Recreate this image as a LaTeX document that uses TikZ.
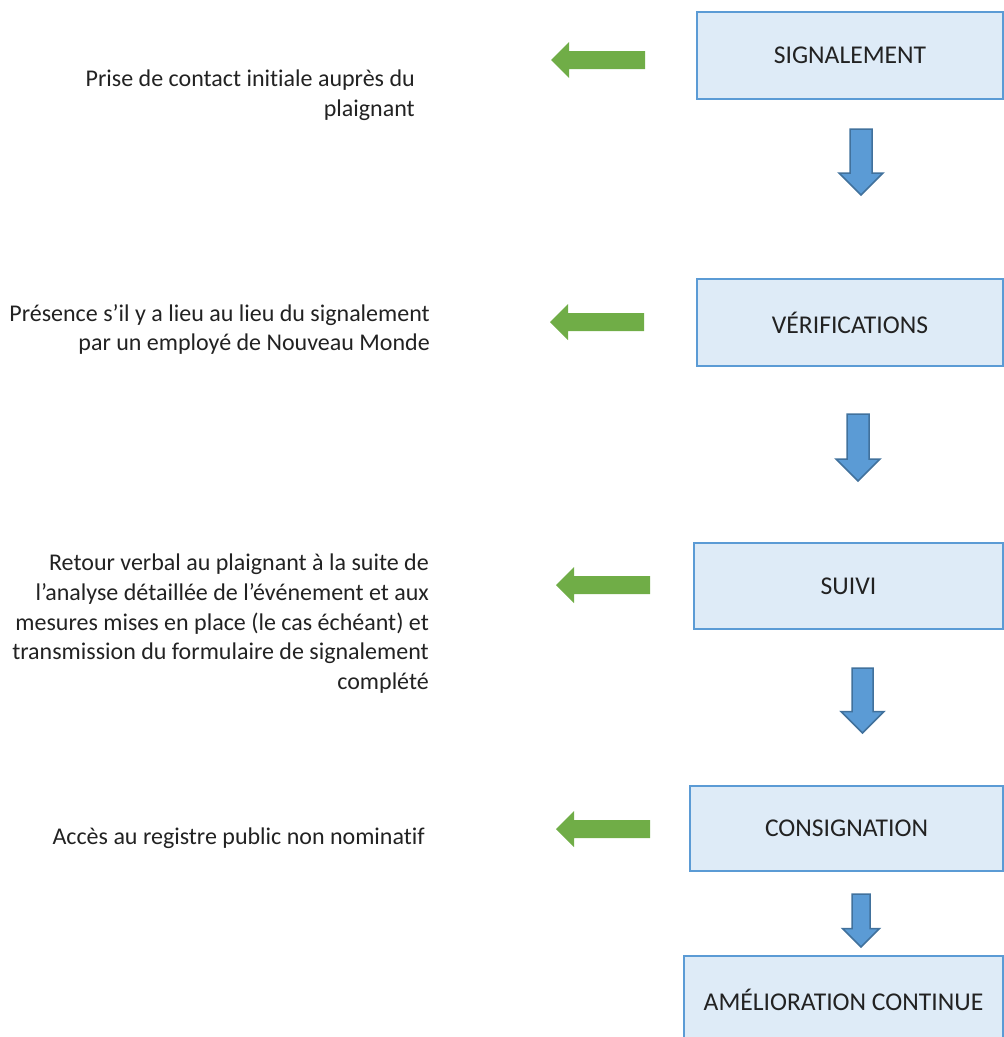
\documentclass[tikz,border=0pt]{standalone}
\usepackage{fontspec}
\setmainfont{Carlito}[Ligatures=NoCommon]
\definecolor{boxfill}{HTML}{DEEBF7}
\definecolor{boxline}{HTML}{5B9BD5}
\definecolor{downfill}{HTML}{5B9BD5}
\definecolor{downline}{HTML}{41719C}
\definecolor{leftfill}{HTML}{70AD47}
\definecolor{txt}{HTML}{222222}
\tikzset{
  stage/.style={draw=boxline, fill=boxfill, line width=2pt, minimum height=87pt,
    inner sep=0pt, text=txt, font=\fontsize{25.6}{30}\selectfont},
  note/.style={anchor=north east, align=right, inner sep=0pt, text=txt,
    font=\fontsize{24}{29.7}\selectfont},
  downarrow/.style={fill=downfill, draw=downline, line width=1.5pt, line join=miter},
  leftarrow/.style={fill=leftfill}
}
% block arrows: centre, start, tip, half shaft, half head
\newcommand{\flowdown}[5]{%
  \draw[downarrow] (#1-#4,#2) -- (#1+#4,#2) -- (#1+#4,#3-#5) -- (#1+#5,#3-#5)
    -- (#1,#3) -- (#1-#5,#3-#5) -- (#1-#4,#3-#5) -- cycle;}
\newcommand{\flowleft}[5]{%
  \fill[leftarrow] (#1,#3) -- (#1+#5,#3-#5) -- (#1+#5,#3-#4) -- (#2,#3-#4)
    -- (#2,#3+#4) -- (#1+#5,#3+#4) -- (#1+#5,#3+#5) -- cycle;}
\begin{document}
\begin{tikzpicture}[x=1pt,y=-1pt]
   \useasboundingbox (0,0) rectangle (1004,1037);
   % steps
   \node[stage, minimum width=306pt] (signal) at (850,55.5) {SIGNALEMENT};
   \node[stage, minimum width=306pt] (verif) at (850,322.5) {VÉRIFICATIONS};
   \node[stage, minimum width=309pt, minimum height=86pt] (suivi) at (848.5,586) {SUIVI};
   \node[stage, minimum width=313pt, minimum height=85pt] (consign) at (846.5,828.5) {CONSIGNATION};
   \node[stage, minimum width=319pt] (amelio) at (843.5,999.5) {AMÉLIORATION CONTINUE};
   % down arrows
   \flowdown{861}{129}{195}{11}{22}
   \flowdown{858}{414}{481}{11}{22}
   \flowdown{862.5}{668}{733}{10.5}{21.5}
   \flowdown{861}{894}{947}{9}{18.5}
   % left arrows
   \flowleft{551}{645}{60}{9}{18}
   \flowleft{550}{644}{322}{9}{18}
   \flowleft{556}{650}{585}{9}{18}
   \flowleft{556}{650}{829}{9}{18}
   % notes
   \node[note] (contact) at (415,70) {Prise de contact initiale auprès du\\plaignant};
   \node[note] (presence) at (430,304) {Présence s’il y a lieu au lieu du signalement\\par un employé de Nouveau Monde};
   \node[note] (retour) at (429,554) {Retour verbal au plaignant à la suite de\\l’analyse détaillée de l’événement et aux\\mesures mises en place (le cas échéant) et\\transmission du formulaire de signalement\\complété};
   \node[note] (acces) at (425,828) {Accès au registre public non nominatif};
\end{tikzpicture}
\end{document}
